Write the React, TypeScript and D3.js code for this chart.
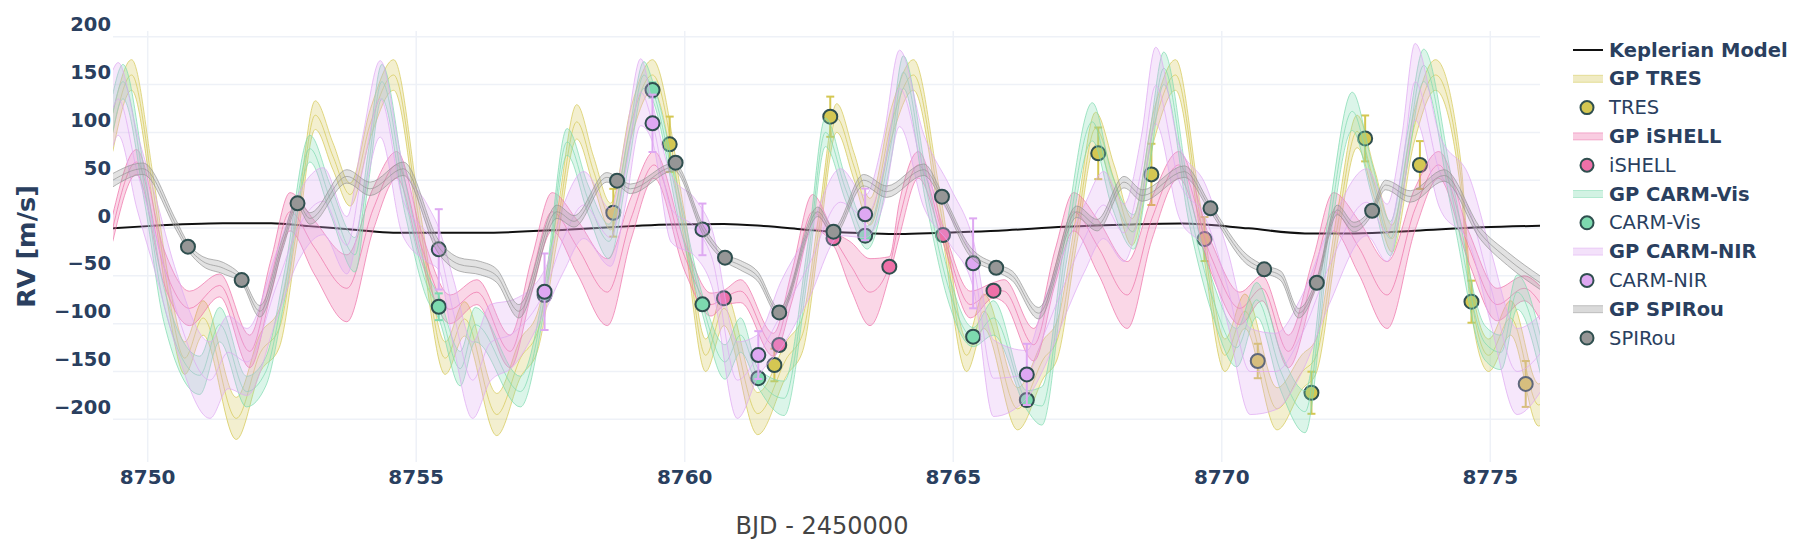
import React, { useEffect } from 'react';
import * as d3 from 'd3';

type GPPoint = [number, number, number]; // [BJD, mean RV, half width]

const xTicks = [8750, 8755, 8760, 8765, 8770, 8775];
const yTicks = [200, 150, 100, 50, 0, -50, -100, -150, -200];

const kepT = [8749.35, 8750.0, 8751.4, 8752.3, 8753.0, 8753.9, 8754.57, 8756.2, 8757.87, 8759.0, 8759.74, 8760.73, 8761.47, 8762.2, 8762.78, 8763.4, 8764.0, 8764.78, 8765.84, 8767.07, 8768.32, 8769.25, 8770.5, 8771.55, 8772.48, 8773.6, 8774.85, 8775.97];
const kepRV = [-0.3, 2, 4.9, 4.9, 2, -2.1, -4.9, -4.9, -1.4, 2, 3.8, 4.2, 2.1, -1.4, -4.2, -5.5, -6.3, -4.9, -2.8, 1.4, 3.8, 4.7, -0.3, -5.6, -5.6, -2.8, 0.7, 2.4];

const gpTRES: GPPoint[] = [
  [8749.35, 100, 20], [8749.70, 160, 16], [8750.10, 40, 15], [8750.38, -66, 16], [8750.69, -136, 17],
  [8751.03, -94, 18], [8751.65, -199, 22], [8752.10, -130, 20], [8752.45, -105, 20], [8752.78, 0, 15],
  [8753.12, 118, 15], [8753.45, 75, 14], [8753.77, 35, 12], [8754.15, 110, 15], [8754.58, 160, 16],
  [8755.07, 3, 15], [8755.54, -136, 17], [8755.90, -95, 18], [8756.50, -195, 22], [8756.95, -135, 20],
  [8757.25, -110, 20], [8757.62, 0, 15], [8757.99, 111, 18], [8758.30, 60, 15], [8758.62, 12, 14],
  [8759.00, 110, 16], [8759.40, 160, 16], [8759.99, 3, 15], [8760.39, -133, 17], [8760.73, -84, 18],
  [8761.36, -194, 22], [8761.90, -136, 18], [8762.20, -110, 18], [8762.50, 0, 15], [8762.83, 115, 15],
  [8763.15, 65, 14], [8763.45, 17, 14], [8763.85, 110, 16], [8764.26, 160, 16], [8764.76, 20, 15],
  [8765.25, -133, 17], [8765.57, -87, 18], [8766.20, -189, 22], [8766.69, -136, 20], [8766.93, -118, 20],
  [8767.30, 0, 16], [8767.65, 104, 17], [8768.00, 50, 15], [8768.33, -4, 14], [8768.75, 110, 16],
  [8769.14, 160, 16], [8769.60, 10, 15], [8770.06, -133, 17], [8770.43, -87, 18], [8771.03, -189, 22],
  [8771.50, -150, 18], [8771.75, -135, 18], [8772.15, 0, 16], [8772.52, 101, 17], [8772.85, 45, 15],
  [8773.17, -11, 14], [8773.58, 105, 16], [8773.98, 160, 16], [8774.45, 55, 15], [8774.63, -66, 15],
  [8774.97, -133, 17], [8775.38, -94, 18], [8775.90, -185, 22], [8776.00, -180, 22],
];

const gpISHELL: GPPoint[] = [
  [8749.35, 0, 14], [8749.79, 69, 13], [8750.30, -40, 18], [8750.78, -84, 18], [8751.34, -60, 12],
  [8751.90, -129, 17], [8752.30, -50, 18], [8752.65, 17, 20], [8753.10, -20, 28], [8753.71, -63, 35],
  [8754.20, 20, 22], [8754.64, 66, 14], [8755.10, -20, 15], [8755.63, -85, 15], [8756.13, -67, 13],
  [8756.75, -129, 17], [8757.15, -50, 18], [8757.53, 17, 20], [8758.00, -20, 28], [8758.56, -67, 35],
  [8759.00, 10, 22], [8759.43, 66, 14], [8760.00, -30, 15], [8760.49, -80, 12], [8760.73, -73, 8],
  [8761.04, -66, 12], [8761.65, -122, 12], [8762.00, -60, 16], [8762.38, 17, 18], [8762.77, -10, 8],
  [8763.10, -40, 25], [8763.45, -67, 35], [8763.81, -40, 10], [8764.00, 10, 18], [8764.35, 66, 14],
  [8764.81, -7, 8], [8765.32, -80, 14], [8765.75, -65, 8], [8765.95, -66, 12], [8766.50, -122, 17],
  [8766.90, -40, 18], [8767.24, 17, 20], [8767.70, -20, 28], [8768.24, -70, 35], [8768.70, 10, 22],
  [8769.20, 66, 14], [8769.80, -30, 16], [8770.34, -84, 17], [8770.75, -63, 13], [8771.24, -129, 17],
  [8771.70, -50, 18], [8772.08, 17, 20], [8772.55, -20, 28], [8773.08, -70, 35], [8773.60, 20, 22],
  [8774.04, 66, 14], [8774.60, -20, 16], [8775.13, -80, 17], [8775.63, -63, 13], [8775.95, -80, 18],
];

const gpCARMVis: GPPoint[] = [
  [8749.35, 120, 20], [8749.54, 153, 18], [8749.95, 40, 16], [8750.30, -80, 18], [8750.97, -154, 20],
  [8751.34, -101, 18], [8751.84, -171, 16], [8752.20, -150, 15], [8752.55, -60, 15], [8753.02, 83, 14],
  [8753.40, 30, 15], [8753.86, -28, 18], [8754.10, 60, 17], [8754.36, 153, 18], [8754.80, 30, 17],
  [8755.20, -60, 14], [8755.42, -83, 12], [8755.82, -147, 18], [8756.10, -101, 18], [8756.94, -171, 16],
  [8757.39, -72, 12], [8757.81, 90, 14], [8758.20, 30, 15], [8758.59, -14, 18], [8758.95, 80, 16],
  [8759.24, 160, 14], [8759.40, 144, 10], [8759.90, 20, 15], [8760.33, -80, 10], [8760.75, -140, 18],
  [8761.04, -112, 18], [8761.37, -157, 10], [8761.85, -178, 18], [8762.30, -30, 16], [8762.62, 100, 15],
  [8763.00, 40, 12], [8763.40, -10, 12], [8763.85, 90, 16], [8764.07, 163, 17], [8764.50, 40, 16],
  [8764.90, -60, 15], [8765.37, -114, 10], [8765.75, -94, 18], [8766.37, -180, 10], [8766.65, -186, 20],
  [8767.10, -20, 18], [8767.59, 111, 20], [8767.95, 40, 17], [8768.36, -4, 18], [8768.65, 80, 17],
  [8768.92, 167, 17], [8769.40, 20, 17], [8769.84, -75, 18], [8770.28, -125, 20], [8770.65, -75, 18],
  [8771.10, -150, 20], [8771.55, -192, 22], [8772.00, 0, 18], [8772.43, 122, 20], [8772.80, 50, 17],
  [8773.14, -11, 18], [8773.45, 80, 17], [8773.76, 170, 17], [8774.30, 30, 17], [8774.90, -120, 18],
  [8775.20, -130, 18], [8775.50, -67, 18], [8775.95, -136, 20],
];

const gpCARMNIR: GPPoint[] = [
  [8749.35, 125, 40], [8749.45, 135, 38], [8749.80, 60, 40], [8750.16, -10, 40], [8750.50, -80, 40],
  [8751.16, -159, 40], [8751.50, -130, 38], [8751.85, -140, 35], [8752.40, -60, 35], [8752.80, 0, 35],
  [8753.27, 28, 35], [8753.71, -18, 30], [8754.00, 60, 35], [8754.33, 135, 40], [8754.75, 30, 38],
  [8755.20, -5, 30], [8755.42, -22, 22], [8755.70, -90, 35], [8756.05, -159, 40], [8756.38, -120, 40],
  [8756.80, -110, 35], [8757.39, -66, 22], [8757.75, -10, 35], [8758.12, 24, 35], [8758.62, -10, 30],
  [8758.90, 60, 35], [8759.18, 142, 35], [8759.40, 110, 20], [8759.75, 20, 35], [8760.20, 0, 30],
  [8760.50, -30, 30], [8760.98, -159, 40], [8761.37, -133, 22], [8761.80, -90, 35], [8762.30, -40, 35],
  [8762.90, 27, 35], [8763.36, 12, 22], [8763.70, 60, 35], [8764.00, 146, 40], [8764.45, 60, 38],
  [8764.95, 12, 30], [8765.37, -37, 25], [8765.75, -157, 40], [8766.37, -153, 25], [8766.70, -110, 35],
  [8767.06, -60, 35], [8767.45, -10, 35], [8767.80, 24, 35], [8768.18, -5, 30], [8768.50, 60, 35],
  [8768.77, 149, 40], [8769.20, 50, 38], [8769.70, 10, 35], [8770.10, -60, 38], [8770.53, -150, 45],
  [8771.00, -150, 40], [8771.50, -110, 40], [8772.00, -40, 40], [8772.70, 27, 35], [8773.08, -5, 30],
  [8773.35, 60, 35], [8773.60, 153, 40], [8774.05, 60, 38], [8774.62, 17, 35], [8775.00, -60, 38],
  [8775.50, -150, 45], [8775.95, -130, 40],
];

const gpSPIRou: GPPoint[] = [
  [8749.35, 50, 7], [8749.91, 62, 6], [8750.53, 3, 5], [8750.75, -19.5, 4], [8751.03, -35, 5],
  [8751.41, -42, 6], [8751.75, -54, 4], [8752.09, -87, 6], [8752.52, -15, 6], [8752.79, 25.8, 4],
  [8753.02, 10, 6], [8753.71, 54, 7], [8754.14, 41, 7], [8754.76, 62, 7], [8755.42, -20, 7],
  [8755.80, -38, 7], [8756.20, -42, 7], [8756.50, -50, 7], [8756.91, -87, 7], [8757.62, 17, 7],
  [8757.94, 7, 6], [8758.55, 53, 5], [8758.74, 49.5, 4], [8758.99, 41, 5], [8759.80, 64, 4],
  [8760.36, -4, 5], [8760.75, -31, 4], [8761.04, -39, 5], [8761.35, -50, 5], [8761.76, -88, 4],
  [8762.48, 17, 5], [8762.77, -3.8, 4], [8763.33, 50, 6], [8763.76, 38, 6], [8764.45, 61, 6],
  [8764.79, 33, 4], [8765.32, -25, 5], [8765.80, -41.5, 4], [8766.10, -50, 5], [8766.59, -89, 6],
  [8767.30, 17, 6], [8767.68, 3, 6], [8768.18, 48, 6], [8768.52, 34, 6], [8769.30, 59, 6],
  [8769.79, 20.6, 4], [8770.47, -33, 5], [8770.79, -43, 4], [8771.10, -50, 5], [8771.43, -89, 5],
  [8771.77, -57, 4], [8772.15, 19, 5], [8772.46, 1, 5], [8772.80, 18, 4], [8773.05, 45, 5],
  [8773.51, 33, 6], [8774.14, 55, 6], [8774.82, -6, 6], [8775.32, -32, 7], [8775.95, -58, 7],
];

const tresT = [8758.67, 8759.72, 8761.67, 8762.71, 8767.70, 8768.69, 8769.68, 8770.67, 8771.67, 8772.67, 8773.69, 8774.65, 8775.66];
const tresRV = [16.0, 87.5, -143.2, 116.4, 78.1, 56.1, -11.5, -139, -172.2, 93.7, 65.9, -77, -163];
const tresErr = [25, 29, 17, 21, 27, 32, 23, 18, 22, 24, 25, 22, 24];

const ishellT = [8760.73, 8761.76, 8762.77, 8763.81, 8764.81, 8765.75];
const ishellRV = [-73.5, -122.3, -10.8, -40.4, -7.3, -65.5];
const ishellErr = [5, 5, 5, 5, 5, 5];

const carmVisT = [8755.42, 8757.39, 8759.40, 8760.33, 8761.37, 8763.36, 8765.37, 8766.37];
const carmVisRV = [-82.3, -70, 144.3, -79.8, -157, -8.0, -113.6, -179.8];
const carmVisErr = [14, 6, 8, 6, 6, 6, 6, 6];

const carmNirT = [8755.42, 8757.39, 8759.40, 8760.33, 8761.37, 8763.36, 8765.37, 8766.37];
const carmNirRV = [-22.3, -66.6, 109.5, -1.4, -132.8, 14.3, -36.9, -153];
const carmNirErr = [42, 40, 30, 27, 25, 27, 47, 32];

const spirouT = [8750.75, 8751.75, 8752.79, 8758.74, 8759.83, 8760.75, 8761.76, 8762.77, 8764.79, 8765.80, 8769.79, 8770.79, 8771.77, 8772.80];
const spirouRV = [-19.5, -54.4, 25.8, 49.5, 68.3, -31, -88.2, -3.8, 32.8, -41.5, 20.6, -43.2, -57.2, 18.1];
const spirouErr = [5, 5, 5, 5, 5, 5, 5, 5, 5, 5, 5, 5, 5, 5];

const seriesNames = ['TRES', 'iSHELL', 'CARM-Vis', 'CARM-NIR', 'SPIRou'];
const seriesColors = ['rgb(212,199,82)', 'rgb(238,112,168)', 'rgb(125,218,175)', 'rgb(222,168,242)', 'rgb(150,150,150)'];

const series = [
  { name: seriesNames[0], color: seriesColors[0], gp: gpTRES, t: tresT, rv: tresRV, err: tresErr },
  { name: seriesNames[1], color: seriesColors[1], gp: gpISHELL, t: ishellT, rv: ishellRV, err: ishellErr },
  { name: seriesNames[2], color: seriesColors[2], gp: gpCARMVis, t: carmVisT, rv: carmVisRV, err: carmVisErr },
  { name: seriesNames[3], color: seriesColors[3], gp: gpCARMNIR, t: carmNirT, rv: carmNirRV, err: carmNirErr },
  { name: seriesNames[4], color: seriesColors[4], gp: gpSPIRou, t: spirouT, rv: spirouRV, err: spirouErr },
];

const FONT = '"DejaVu Sans", Verdana, sans-serif';
const TICK_COLOR = '#2a3f5f';

export default function App() {
  useEffect(() => {
    document.body.style.margin = '0';
  }, []);

  const left = 113, right = 1540, top = 31, bottom = 462;
  const x = d3.scaleLinear().domain([8749.354, 8775.926]).range([left, right]);
  const y = d3.scaleLinear().domain([-244.6, 206]).range([bottom, top]);

  const meanLine = d3.line<GPPoint>().x(d => x(d[0])).y(d => y(d[1])).curve(d3.curveMonotoneX);
  const upLine = d3.line<GPPoint>().x(d => x(d[0])).y(d => y(d[1] + d[2])).curve(d3.curveMonotoneX);
  const loLine = d3.line<GPPoint>().x(d => x(d[0])).y(d => y(d[1] - d[2])).curve(d3.curveMonotoneX);
  const band = d3.area<GPPoint>().x(d => x(d[0])).y0(d => y(d[1] - d[2])).y1(d => y(d[1] + d[2])).curve(d3.curveMonotoneX);
  const kepLine = d3.line<number>().x((_, i) => x(kepT[i])).y(d => y(d)).curve(d3.curveMonotoneX);

  const legendItems: { label: string; kind: 'kep' | 'gp' | 'pt'; color: string }[] = [
    { label: 'Keplerian Model', kind: 'kep', color: '#111' },
  ];
  series.forEach(s => {
    legendItems.push({ label: 'GP ' + s.name, kind: 'gp', color: s.color });
    legendItems.push({ label: s.name, kind: 'pt', color: s.color });
  });

  return (
    <div style={{ position: 'absolute', left: 0, top: 0 }}>
      <svg width={1798} height={548} style={{ display: 'block', background: '#fff' }}>
        <defs>
          <clipPath id="plotclip">
            <rect x={left} y={top} width={right - left} height={bottom - top} />
          </clipPath>
        </defs>
        {/* grid */}
        {yTicks.map(v => (
          <line key={'gy' + v} x1={left} x2={right} y1={y(v)} y2={y(v)} stroke="#eef1f7" strokeWidth={1.5} />
        ))}
        {xTicks.map(v => (
          <line key={'gx' + v} x1={x(v)} x2={x(v)} y1={top} y2={bottom} stroke="#eef1f7" strokeWidth={1.5} />
        ))}
        {/* tick labels */}
        {yTicks.map(v => (
          <text key={'ty' + v} x={111} y={y(v) - 12} textAnchor="end" dominantBaseline="central"
            fontFamily={FONT} fontWeight="bold" fontSize={19.5} fill={TICK_COLOR}>
            {v < 0 ? '\u2212' + Math.abs(v) : String(v)}
          </text>
        ))}
        {xTicks.map(v => (
          <text key={'tx' + v} x={x(v)} y={477} textAnchor="middle" dominantBaseline="central"
            fontFamily={FONT} fontWeight="bold" fontSize={20} fill={TICK_COLOR}>
            {v}
          </text>
        ))}
        {/* axis titles */}
        <text x={822} y={526} textAnchor="middle" dominantBaseline="central" fontFamily={FONT}
          fontSize={24} fill="#444">BJD - 2450000</text>
        <text transform={`translate(26,246.5) rotate(-90)`} textAnchor="middle" dominantBaseline="central"
          fontFamily={FONT} fontWeight="bold" fontSize={25.5} fill={TICK_COLOR}>RV [m/s]</text>

        <g clipPath="url(#plotclip)">
          <path d={kepLine(kepRV) || ''} fill="none" stroke="#111" strokeWidth={2} />
          {series.map(s => (
            <g key={s.name}>
              <path d={band(s.gp) || ''} fill={s.color} fillOpacity={0.28} stroke="none" />
              <path d={upLine(s.gp) || ''} fill="none" stroke={s.color} strokeOpacity={0.7} strokeWidth={1} />
              <path d={loLine(s.gp) || ''} fill="none" stroke={s.color} strokeOpacity={0.7} strokeWidth={1} />
              <path d={meanLine(s.gp) || ''} fill="none" stroke={s.color} strokeOpacity={0.7} strokeWidth={1} />
              {s.t.map((t, i) => {
                const cx = x(t);
                const y1 = y(s.rv[i] + s.err[i]);
                const y2 = y(s.rv[i] - s.err[i]);
                return (
                  <g key={'e' + i} stroke={s.color} strokeWidth={2}>
                    <line x1={cx} x2={cx} y1={y1} y2={y2} />
                    <line x1={cx - 4} x2={cx + 4} y1={y1} y2={y1} />
                    <line x1={cx - 4} x2={cx + 4} y1={y2} y2={y2} />
                  </g>
                );
              })}
              {s.t.map((t, i) => (
                <circle key={'p' + i} cx={x(t)} cy={y(s.rv[i])} r={7} fill={s.color}
                  stroke="#2f4f4f" strokeWidth={2} />
              ))}
            </g>
          ))}
        </g>

        {/* legend */}
        {legendItems.map((it, i) => {
          const ly = 50 + i * 28.8;
          return (
            <g key={'lg' + i}>
              {it.kind === 'kep' && (
                <line x1={1573} x2={1603} y1={ly} y2={ly} stroke="#111" strokeWidth={2} />
              )}
              {it.kind === 'gp' && (
                <g>
                  <rect x={1573} y={ly - 3.5} width={30} height={7} fill={it.color} fillOpacity={0.35} />
                  <line x1={1573} x2={1603} y1={ly - 3.5} y2={ly - 3.5} stroke={it.color} strokeOpacity={0.5} strokeWidth={1} />
                  <line x1={1573} x2={1603} y1={ly + 3.5} y2={ly + 3.5} stroke={it.color} strokeOpacity={0.5} strokeWidth={1} />
                </g>
              )}
              {it.kind === 'pt' && (
                <circle cx={1587} cy={ly} r={6.5} fill={it.color} stroke="#2f4f4f" strokeWidth={2} />
              )}
              <text x={1609} y={ly} dominantBaseline="central" fontFamily={FONT}
                fontWeight={it.kind === 'pt' ? 'normal' : 'bold'} fontSize={19.5} fill={TICK_COLOR}>
                {it.label}
              </text>
            </g>
          );
        })}
      </svg>
    </div>
  );
}
